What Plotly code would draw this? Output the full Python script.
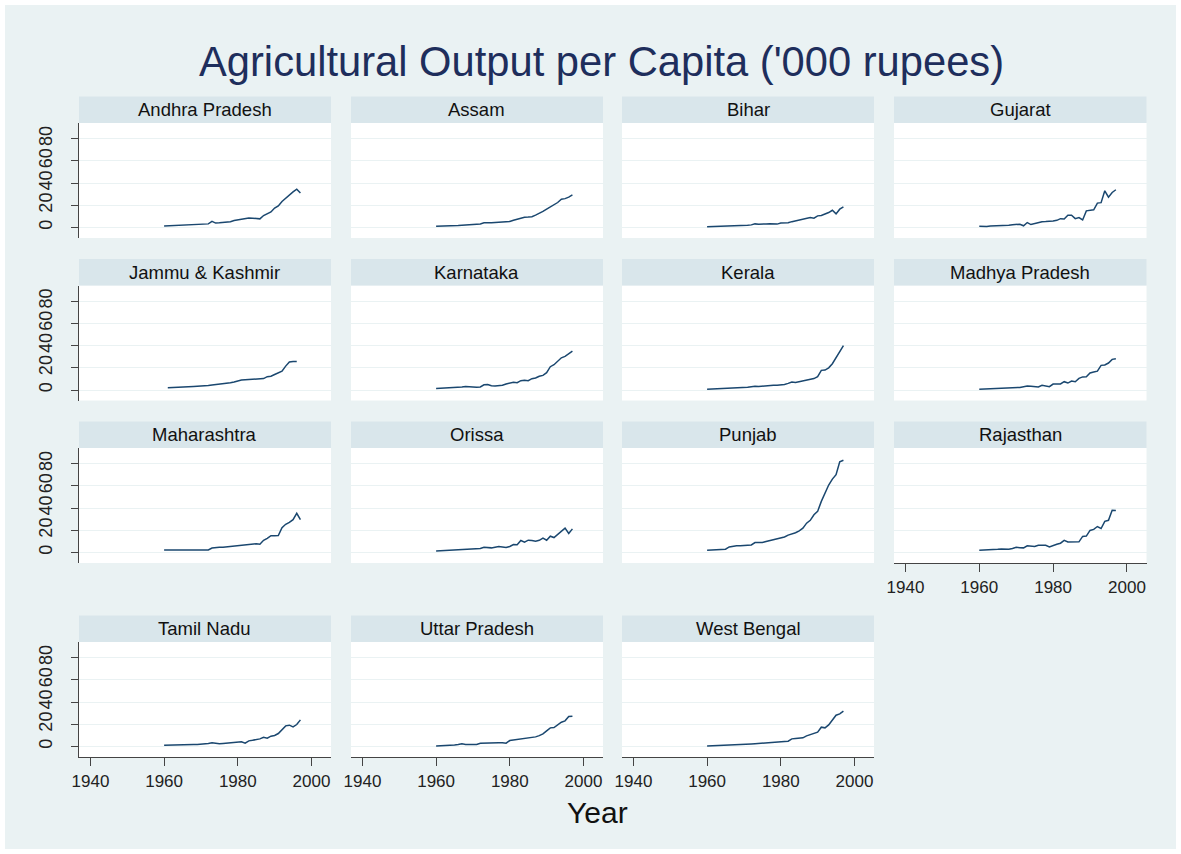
import plotly.graph_objects as go

W, H = 1181, 854

years = list(range(1960, 1998))

states = ["Andhra Pradesh", "Assam", "Bihar", "Gujarat",
          "Jammu & Kashmir", "Karnataka", "Kerala", "Madhya Pradesh",
          "Maharashtra", "Orissa", "Punjab", "Rajasthan",
          "Tamil Nadu", "Uttar Pradesh", "West Bengal"]

andhra_pradesh = [1.3, 1.5, 1.6, 1.7, 2.0, 1.8, 2.2, 2.5, 2.5, 2.6, 3.0, 3.1, 3.3, 5.5, 4.0, 4.2, 4.5, 4.8, 5.3,
                  6.3, 7.0, 7.2, 8.3, 8.5, 8.4, 8.2, 7.8, 10.8, 12.5, 14.0, 17.5, 19.5, 23.5, 26.5, 29.5, 32.0, 34.5, 31.0]
assam = [1.2, 1.2, 1.3, 1.3, 1.4, 1.6, 1.8, 2.0, 2.2, 2.5, 2.8, 3.0, 3.2, 4.2, 4.0, 4.3, 4.6, 4.7, 5.0,
         5.3, 5.5, 6.5, 7.5, 8.7, 9.3, 9.4, 9.8, 11.2, 12.5, 14.5, 16.5, 18.5, 20.5, 22.5, 25.5, 26.0, 27.3, 29.3]
bihar = [0.7, 0.8, 0.9, 1.0, 1.3, 1.0, 1.2, 1.4, 1.5, 1.6, 1.9, 2.1, 2.4, 3.3, 3.0, 2.9, 3.2, 3.4, 3.3,
         3.1, 4.0, 4.2, 4.3, 5.3, 6.0, 6.8, 7.6, 8.5, 9.0, 8.4, 10.5, 10.8, 12.0, 13.5, 15.5, 12.3, 16.5, 18.6]
gujarat = [1.2, 1.0, 0.9, 1.3, 1.4, 1.5, 1.8, 2.3, 2.0, 2.6, 2.9, 3.0, 1.6, 4.5, 2.7, 3.6, 4.5, 5.3, 5.4,
           5.5, 5.8, 6.5, 8.0, 7.7, 11.0, 11.0, 8.0, 9.0, 6.8, 15.0, 15.2, 16.0, 22.0, 22.4, 33.0, 27.3, 31.5, 34.0]
jammu_kashmir = [None, 2.0, 2.1, 2.2, 2.6, 2.7, 2.8, 3.2, 3.3, 3.5, 3.6, 3.6, 4.0, 4.6, 5.0, 4.8, 5.5, 5.8, 6.5,
                 7.2, 8.3, 9.0, 9.3, 9.6, 10.0, 10.0, 10.1, 10.3, 12.0, 12.4, 14.0, 15.5, 17.0, 21.5, 25.3, 25.7, 25.6, None]
karnataka = [1.5, 1.6, 1.8, 2.0, 2.0, 2.2, 2.5, 2.8, 3.2, 2.8, 2.5, 2.5, 2.8, 4.7, 5.0, 3.8, 3.7, 4.0, 4.3,
             5.5, 6.5, 7.0, 6.6, 8.4, 8.7, 8.4, 10.2, 10.8, 12.4, 13.2, 15.6, 21.0, 22.8, 25.8, 29.0, 30.3, 33.0, 35.0]
kerala = [0.8, 0.9, 1.0, 1.2, 1.4, 1.5, 1.7, 2.0, 2.1, 2.3, 2.2, 2.5, 3.0, 3.5, 3.2, 3.6, 3.8, 3.9, 4.2,
          4.3, 4.5, 5.0, 6.0, 7.2, 6.8, 7.6, 8.2, 9.0, 9.6, 10.3, 12.0, 17.7, 18.0, 20.0, 23.7, 29.0, 34.5, 40.0]
madhya_pradesh = [0.7, 0.8, 1.0, 1.1, 1.2, 1.3, 1.5, 1.6, 1.8, 2.0, 2.1, 2.4, 3.0, 3.6, 3.4, 3.1, 2.7, 4.2, 3.6,
                  3.0, 5.4, 5.5, 5.5, 7.5, 6.3, 8.1, 7.5, 10.5, 11.8, 12.0, 15.3, 16.2, 17.0, 22.2, 22.5, 24.3, 27.6, 28.2]
maharashtra = [2.4, 2.4, 2.4, 2.4, 2.4, 2.5, 2.8, 2.8, 2.8, 2.8, 2.7, 2.8, 2.3, 4.0, 4.6, 4.8, 4.8, 5.2, 5.6,
               6.0, 6.6, 6.9, 6.9, 7.8, 7.8, 8.0, 7.5, 11.0, 12.8, 15.2, 15.2, 15.3, 22.4, 25.4, 27.2, 29.6, 35.3, 29.6]
orissa = [1.4, 1.6, 1.8, 2.0, 2.3, 2.6, 2.6, 3.0, 3.3, 3.3, 3.3, 3.3, 3.6, 4.8, 4.5, 4.2, 4.8, 5.4, 5.0,
          4.5, 5.5, 7.2, 7.0, 10.8, 9.3, 11.1, 10.8, 10.2, 11.0, 12.9, 11.1, 14.7, 13.5, 16.5, 19.5, 21.9, 17.1, 21.3]
punjab = [2.1, 2.2, 2.3, 2.5, 2.7, 3.0, 5.0, 5.7, 6.0, 6.1, 6.2, 6.5, 6.8, 9.0, 9.0, 9.0, 9.9, 10.7, 11.3,
          12.0, 12.7, 14.0, 15.7, 16.5, 17.8, 19.5, 21.9, 26.4, 29.0, 34.0, 37.0, 46.0, 53.0, 60.7, 66.0, 70.0, 81.5, 83.0]
rajasthan = [2.1, 2.2, 2.2, 2.3, 2.7, 3.0, 3.3, 3.2, 2.9, 3.6, 4.8, 4.3, 4.2, 6.0, 5.8, 5.4, 6.6, 6.7, 6.6,
             5.1, 6.5, 7.5, 8.4, 11.0, 9.5, 9.5, 9.5, 9.6, 14.5, 14.8, 19.9, 20.8, 23.4, 21.6, 28.0, 29.0, 38.0, 37.8]
tamil_nadu = [1.2, 1.2, 1.2, 1.3, 1.6, 1.2, 1.6, 1.7, 1.8, 1.9, 2.0, 2.3, 2.7, 3.3, 2.6, 2.5, 2.8, 3.1, 3.3,
              3.6, 3.9, 4.2, 3.0, 5.1, 5.6, 6.0, 6.9, 8.4, 7.5, 9.3, 9.9, 11.7, 14.7, 18.6, 19.2, 17.7, 19.8, 24.0]
uttar_pradesh = [0.6, 0.7, 0.8, 1.0, 1.2, 1.5, 1.9, 2.4, 1.8, 1.8, 1.9, 1.9, 3.0, 3.2, 3.0, 3.3, 3.4, 3.5, 3.5,
                 3.0, 5.4, 5.8, 6.2, 6.6, 7.0, 7.5, 7.8, 8.7, 9.8, 11.4, 14.1, 16.8, 17.1, 19.8, 21.9, 23.1, 27.0, 27.3]
west_bengal = [0.6, 0.7, 0.8, 0.9, 1.1, 1.2, 1.3, 1.5, 1.7, 1.9, 2.1, 2.2, 2.4, 2.6, 2.8, 3.0, 3.3, 3.6, 3.6,
               3.5, 4.2, 4.5, 4.8, 6.9, 7.2, 7.8, 7.8, 9.6, 10.8, 12.3, 12.9, 17.4, 16.8, 19.5, 24.3, 28.2, 29.4, 31.8]

series = [andhra_pradesh, assam, bihar, gujarat, jammu_kashmir, karnataka, kerala, madhya_pradesh,
          maharashtra, orissa, punjab, rajasthan, tamil_nadu, uttar_pradesh, west_bengal]

y_ticks = [0, 20, 40, 60, 80]
x_ticks = [1940, 1960, 1980, 2000]

title_text = "Agricultural Output per Capita ('000 rupees)"
x_title = "Year"

# ---------- layout geometry (pixels) ----------
col_x = [(79, 331), (351, 603), (622, 874), (894, 1146.5)]
row_plot = [(123, 238), (285.5, 400.5), (448, 563), (642, 757)]
header_h = 26.5

BG = "#EAF2F3"
HDR = "#D9E6EB"
LINE = "#1A476F"
FONT = "Liberation Sans, Arial, sans-serif"

fig = go.Figure()
layout = dict(
    width=W, height=H,
    margin=dict(l=0, r=0, t=0, b=0, autoexpand=False),
    paper_bgcolor=BG, plot_bgcolor="white",
    showlegend=False,
    font=dict(family=FONT, color="#222"),
)
shapes = []
annotations = []

n = len(states)
for i, (name, vals) in enumerate(zip(states, series)):
    r, c = divmod(i, 4)
    k = i + 1
    xs = "" if k == 1 else str(k)
    x0, x1 = col_x[c]
    t, b = row_plot[r]
    bottom_panel = (r == 3) or (i + 4 >= n)
    left_panel = (c == 0)
    fig.add_trace(go.Scatter(x=years, y=vals, mode="lines",
                             line=dict(color=LINE, width=1.5),
                             xaxis="x" + xs, yaxis="y" + xs,
                             hoverinfo="x+y"))
    layout["xaxis" + xs] = dict(
        domain=[x0 / W, x1 / W], anchor="y" + xs, automargin=False,
        range=[1936.9, 2005.3], tickvals=x_ticks,
        showgrid=False, zeroline=False,
        showticklabels=bottom_panel,
        showline=bottom_panel, linecolor="#444", linewidth=1.2,
        ticks="outside" if bottom_panel else "", ticklen=8, tickcolor="#444", tickwidth=1.2,
        tickfont=dict(size=17, color="#222", family=FONT),
    )
    layout["yaxis" + xs] = dict(
        domain=[1 - b / H, 1 - t / H], anchor="x" + xs, automargin=False,
        range=[-9.4, 94], tickvals=y_ticks,
        showgrid=True, gridcolor=BG, gridwidth=1.2, zeroline=False,
        showticklabels=left_panel, tickangle=-90,
        ticklabelstandoff=12,
        showline=left_panel, linecolor="#444", linewidth=1.2,
        ticks="outside" if left_panel else "", ticklen=7, tickcolor="#444", tickwidth=1.2,
        tickfont=dict(size=18, color="#222", family=FONT),
    )
    # header strip
    shapes.append(dict(type="rect", xref="paper", yref="paper",
                       x0=x0 / W, x1=x1 / W, y0=1 - t / H, y1=1 - (t - header_h) / H,
                       fillcolor=HDR, line=dict(width=0), layer="below"))
    annotations.append(dict(text=name, xref="paper", yref="paper",
                            x=(x0 + x1) / 2 / W, y=1 - (t - header_h / 2) / H,
                            xanchor="center", yanchor="middle", showarrow=False,
                            font=dict(size=18.5, color="#111", family=FONT)))

# white outer frame
fw = 5
for (a0, a1, b0, b1) in [(0, W, 0, fw), (0, W, H - fw, H), (0, fw, 0, H), (W - fw, W, 0, H)]:
    shapes.append(dict(type="rect", xref="paper", yref="paper",
                       x0=a0 / W, x1=a1 / W, y0=1 - b1 / H, y1=1 - b0 / H,
                       fillcolor="white", line=dict(width=0), layer="below"))

annotations.append(dict(text=title_text, xref="paper", yref="paper",
                        x=601 / W, y=1 - 62 / H, xanchor="center", yanchor="middle",
                        showarrow=False, font=dict(size=41.7, color="#1E2E5C", family=FONT)))
annotations.append(dict(text=x_title, xref="paper", yref="paper",
                        x=597 / W, y=1 - 812 / H, xanchor="center", yanchor="middle",
                        showarrow=False, font=dict(size=30, color="#111", family=FONT)))

layout["shapes"] = shapes
layout["annotations"] = annotations
fig.update_layout(**layout)
fig.write_html("out.html")
